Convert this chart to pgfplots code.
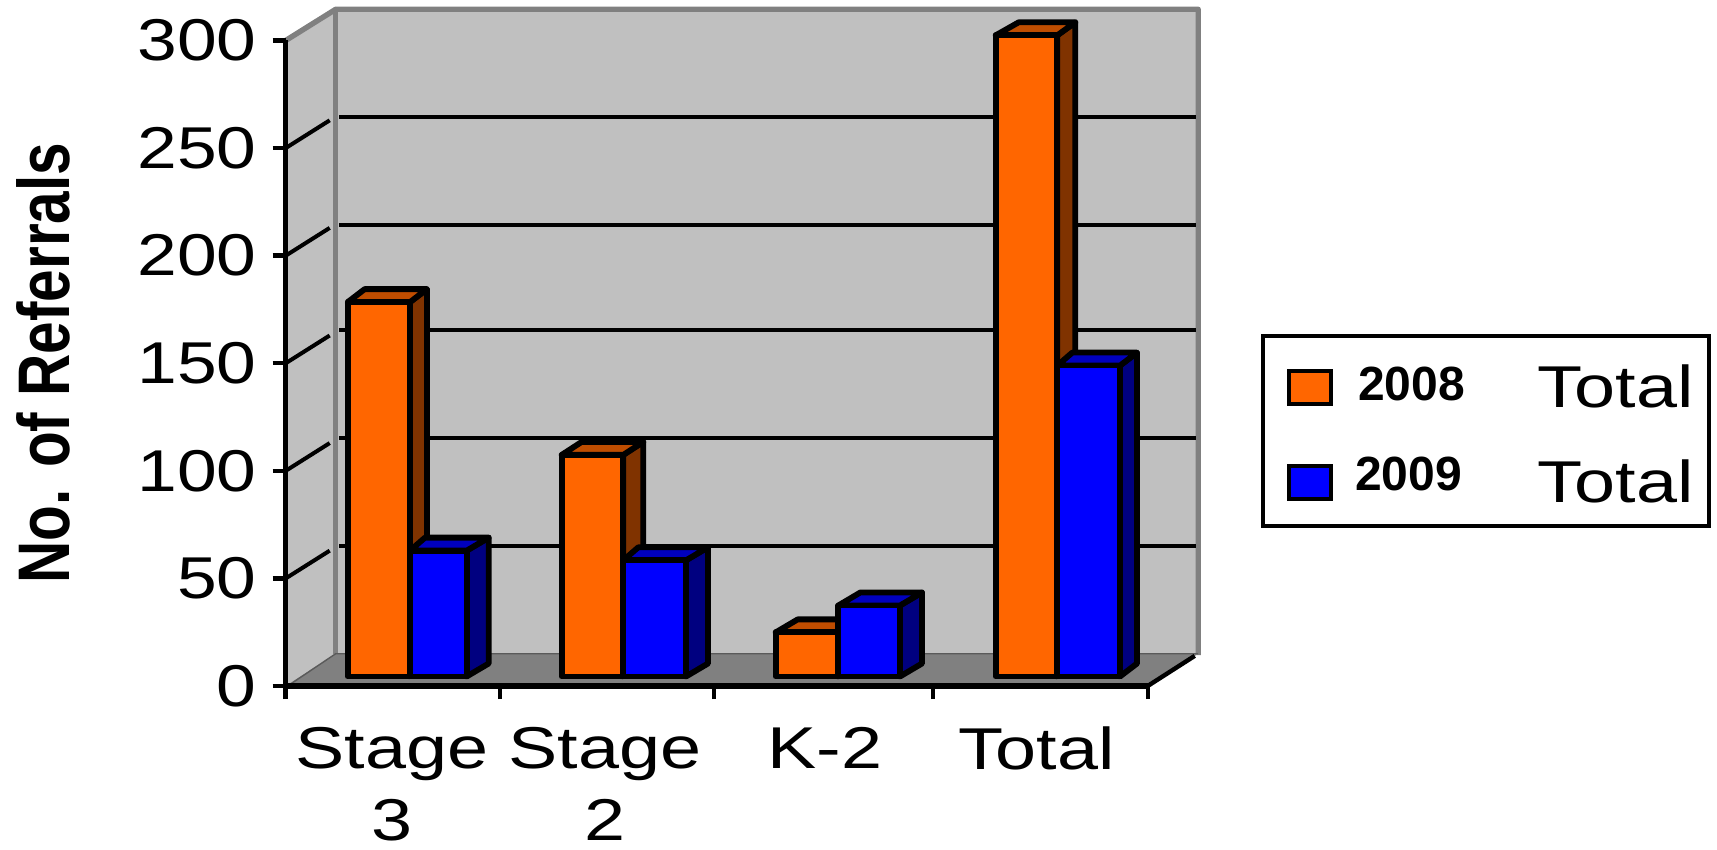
\documentclass[border=0pt]{standalone}
\usepackage{pgfplots}
\usepackage{fontspec}
\pgfplotsset{compat=1.18}
\setmainfont{Liberation Sans}
\newfontfamily\widefont[FakeStretch=1.25]{Liberation Sans}
\newfontfamily\valuefont[FakeStretch=1.21]{Liberation Sans}

\definecolor{wall}{HTML}{C0C0C0}
\definecolor{frame}{HTML}{808080}
\definecolor{orangefront}{HTML}{FF6600}
\definecolor{orangetop}{HTML}{BF4D00}
\definecolor{orangeside}{HTML}{803300}
\definecolor{bluefront}{HTML}{0000FF}
\definecolor{bluetop}{HTML}{0000BF}
\definecolor{blueside}{HTML}{000080}

% One box: left x, right x, value, top-left depth, right depth, three face colours
\newcommand{\drawbox}[8]{%
  \pgfmathsetmacro{\tl}{#1+#4}%
  \pgfmathsetmacro{\tr}{#2+#5}%
  \pgfmathsetmacro{\vb}{#3+6.04}%
  \addplot[fill=#8,boxline] coordinates {(#2,0) (\tr,6.04) (\tr,\vb) (#2,#3)} --cycle;
  \addplot[fill=#7,boxline] coordinates {(#1,#3) (#2,#3) (\tr,\vb) (\tl,\vb)} --cycle;
  \addplot[fill=#6,boxline] coordinates {(#1,0) (#2,0) (#2,#3) (#1,#3)} --cycle;
}
\newcommand{\legendtext}[3]{\makebox[163.5pt]{\hspace{#3}\raisebox{#2}{\fontsize{24}{24}\selectfont\bfseries #1}\hfill{\fontsize{29.5}{30}\selectfont\widefont Total}\hspace*{-4.2pt}}}

\pgfplotsset{
  boxline/.style={draw=black,line width=2.9pt,line join=round,yshift=4.75pt,forget plot},
  wallline/.style={draw=frame,line width=2.7pt,line join=round,forget plot},
  gridline/.style={draw=black,line width=2pt,forget plot},
}

\begin{document}
\begin{tikzpicture}
\path[use as bounding box] (-142.85pt,-82pt) rectangle (715.65pt,343pt);
\begin{axis}[
  scale only axis,
  width=431pt,height=322.75pt,
  xmin=0,xmax=862,ymin=0,ymax=300,
  clip=false,
  axis on top,
  axis lines=left,
  axis line style={-,line width=2.6pt,black},
  xtick={0,214,428,647,862},
  xticklabels={},
  extra x ticks={106,319,539,751},
  extra x tick labels={Stage\\[3pt]3,Stage\\[3pt]2,K-2,Total},
  extra x tick style={major tick length=0pt,tick style={draw=none}},
  ytick={0,50,100,150,200,250,300},
  tick style={black,line width=2.2pt},
  tick align=outside,
  major tick length=6.5pt,
  /pgf/number format/assume math mode=true,
  x tick label style={font=\fontsize{29.5}{33}\selectfont\widefont,align=center,yshift=-17pt},
  y tick label style={font=\fontsize{29.5}{33}\selectfont\valuefont,xshift=-4.5pt},
  ylabel={\scalebox{1}[1.25]{\fontsize{29.25}{30}\selectfont\bfseries No. of Referrals}},
  ylabel style={at={(axis description cs:0,0.5)},anchor=center,xshift=0pt,yshift=121pt},
  legend style={at={(axis cs:977.3,162.6)},anchor=north west,draw=black,line width=2pt,
    inner xsep=12pt,inner ysep=0pt,outer sep=0pt,row sep=0pt,legend cell align=left,
    /tikz/every odd column/.append style={column sep=12.5pt},
    nodes={inner sep=0pt,outer sep=0pt,text height=35.8pt,text depth=11.7pt}},
  legend image code/.code={
    \draw[#1] (1.5pt,-10.3pt) rectangle (22.5pt,6.2pt);
  },
]
% Walls and floor of the box
\addplot[fill=wall,draw=none,forget plot] coordinates {(0,0) (50,14.4) (50,314.5) (0,300)} --cycle;
\addplot[fill=wall,draw=none,forget plot] coordinates {(50,14.4) (912.5,14.4) (912.5,314.5) (50,314.5)} --cycle;
\addplot[fill=frame,draw=none,forget plot] coordinates {(0,0) (862,0) (912.5,15) (50,15)} --cycle;
\addplot[wallline] coordinates {(0,300) (50,314.5) (912.5,314.5) (912.5,14.4)};
\addplot[wallline] coordinates {(50,314.5) (50,15)};
\addplot[draw=frame!70!black,line width=0.7pt,forget plot] coordinates {(2,0) (50,15) (912.5,15)};
\addplot[draw=black,line width=2.2pt,forget plot] coordinates {(862,0) (909,14)};

% Grid on the back wall
\addplot[gridline] coordinates {(53.6,264.4) (910,264.4)};
\addplot[gridline] coordinates {(53.6,214.2) (910,214.2)};
\addplot[gridline] coordinates {(53.6,165.6) (910,165.6)};
\addplot[gridline] coordinates {(53.6,115.3) (910,115.3)};
\addplot[gridline] coordinates {(53.6,65) (910,65)};
% Grid on the side wall
\addplot[gridline] coordinates {(0,50) (44,62.9)};
\addplot[gridline] coordinates {(0,100) (44,112.9)};
\addplot[gridline] coordinates {(0,150) (44,162.9)};
\addplot[gridline] coordinates {(0,200) (44,212.9)};
\addplot[gridline] coordinates {(0,250) (44,262.9)};

% Stage 3
\drawbox{62}{124.3}{174}{17}{17}{orangefront}{orangetop}{orangeside}
\drawbox{124.3}{181}{58.5}{15}{22}{bluefront}{bluetop}{blueside}
% Stage 2
\drawbox{276}{337.6}{103}{20}{20}{orangefront}{orangetop}{orangeside}
\drawbox{337.6}{400.3}{54}{15}{22}{bluefront}{bluetop}{blueside}
% K-2
\drawbox{490}{552.6}{20.5}{22}{22}{orangefront}{orangetop}{orangeside}
\drawbox{552.6}{614.3}{33}{22}{22}{bluefront}{bluetop}{blueside}
% Total
\drawbox{710}{771.6}{298}{23}{18}{orangefront}{orangetop}{orangeside}
\drawbox{771.6}{834.3}{144.5}{15}{17}{bluefront}{bluetop}{blueside}

\addlegendimage{fill=orangefront,draw=black,line width=2pt}
\addlegendentry{\legendtext{2008}{3.6pt}{0pt}}
\addlegendimage{fill=bluefront,draw=black,line width=2pt}
\addlegendentry{\legendtext{2009}{6.2pt}{-1.5pt}}
\end{axis}
\end{tikzpicture}
\end{document}
